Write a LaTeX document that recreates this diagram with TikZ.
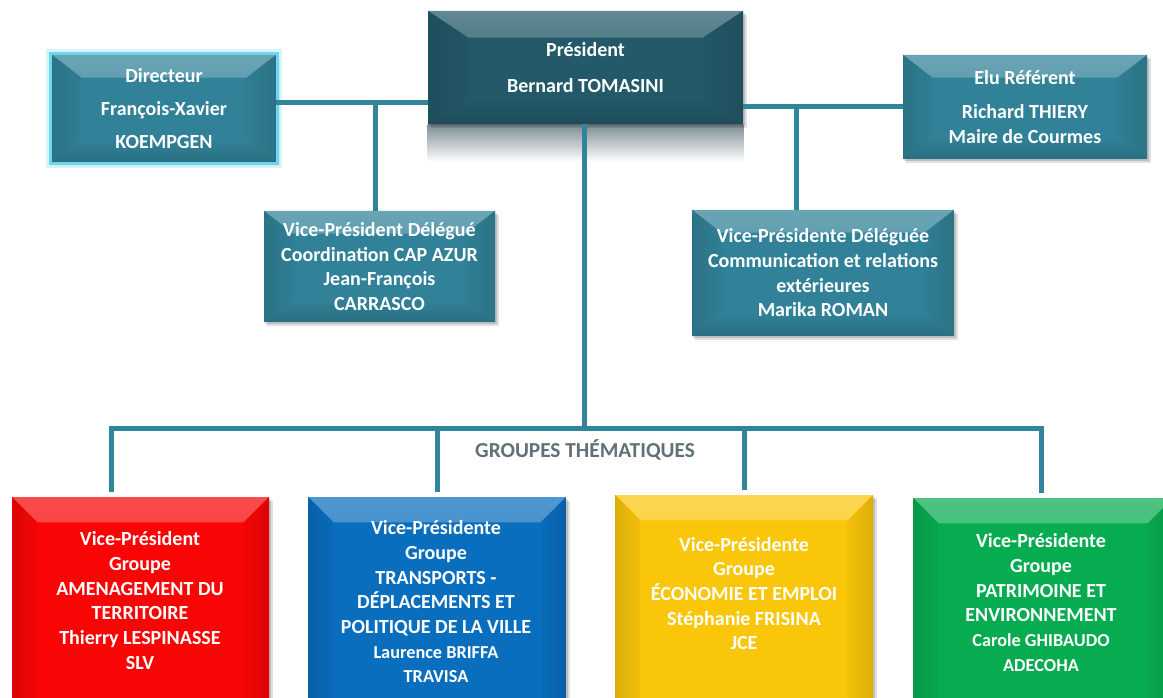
\documentclass[tikz,border=0pt]{standalone}
\usepackage{fontspec}
\setmainfont{Carlito}
\usetikzlibrary{backgrounds}
\definecolor{tealbox}{RGB}{49,130,152}
\definecolor{presbox}{RGB}{35,89,105}
\definecolor{conncol}{RGB}{49,133,155}
\definecolor{redbox}{RGB}{250,5,5}
\definecolor{bluebox}{RGB}{10,110,190}
\definecolor{yellowbox}{RGB}{250,198,10}
\definecolor{greenbox}{RGB}{8,172,80}
\definecolor{glowcol}{RGB}{110,215,240}
\definecolor{grouptxt}{RGB}{98,112,120}
\definecolor{reflc}{RGB}{125,140,146}
\tikzset{
  bevelbox/.style n args={3}{rectangle, fill=#1, inner sep=0pt, draw=none,
    path picture={
      \shade[top color=#1!72!white, bottom color=#1!97!white] (path picture bounding box.north west) -- (path picture bounding box.north east)
        -- ([xshift=-#2,yshift=-#3]path picture bounding box.north east) -- ([xshift=#2,yshift=-#3]path picture bounding box.north west) -- cycle;
      \shade[top color=#1, bottom color=#1!85!black] (path picture bounding box.south west) -- (path picture bounding box.south east)
        -- ([xshift=-#2,yshift=#3]path picture bounding box.south east) -- ([xshift=#2,yshift=#3]path picture bounding box.south west) -- cycle;
      \shade[left color=#1!88!black, right color=#1!97!black] (path picture bounding box.north west) -- (path picture bounding box.south west)
        -- ([xshift=#2,yshift=#3]path picture bounding box.south west) -- ([xshift=#2,yshift=-#3]path picture bounding box.north west) -- cycle;
      \shade[left color=#1!97!black, right color=#1!88!black] (path picture bounding box.north east) -- (path picture bounding box.south east)
        -- ([xshift=-#2,yshift=#3]path picture bounding box.south east) -- ([xshift=-#2,yshift=-#3]path picture bounding box.north east) -- cycle;
    }},
  boxtext/.style={text=white, font=\bfseries\fontsize{15}{18.5}\selectfont, align=center},
  conn/.style={draw=conncol, line width=3.75pt},
}
\newcommand{\smallname}{\fontsize{13.7}{17}\selectfont}
\begin{document}
\begin{tikzpicture}[x=0.75pt,y=-0.75pt]
\useasboundingbox (0,0) rectangle (1163,698);
\clip (0,0) rectangle (1163,698);

% top boxes
\node[bevelbox={tealbox}{22pt}{17pt}, minimum width=168pt, minimum height=80.25pt, boxtext] (dir) at (164,108.5)
  {Directeur\\[6.5pt]François-Xavier\\[6.5pt]KOEMPGEN};
\node[bevelbox={presbox}{30pt}{20pt}, minimum width=236.25pt, minimum height=84.75pt, boxtext] (pres) at (585.5,67.5)
  {Président\\[8pt]Bernard TOMASINI};
\node[bevelbox={tealbox}{22pt}{17pt}, minimum width=173.25pt, minimum height=83.25pt, boxtext] (vpd) at (379.5,266.5)
  {Vice-Président Délégué\\Coordination CAP AZUR\\Jean-François\\CARRASCO};
\node[bevelbox={tealbox}{22pt}{17pt}, minimum width=183pt, minimum height=78pt, boxtext] (elu) at (1025,107)
  {Elu Référent\\[7pt]Richard THIERY\\Maire de Courmes};
\node[bevelbox={tealbox}{22pt}{17pt}, minimum width=196.5pt, minimum height=94.5pt, boxtext] (vpde) at (823,273)
  {Vice-Présidente Déléguée\\Communication et relations\\extérieures\\Marika ROMAN};

% bottom boxes
\node[bevelbox={redbox}{19pt}{19pt}, minimum width=192.75pt, minimum height=182.25pt] (g1) at (140.5,618.5) {};
\node[bevelbox={bluebox}{19pt}{19pt}, minimum width=193.5pt, minimum height=182.25pt] (g2) at (437,618.5) {};
\node[bevelbox={yellowbox}{19pt}{19pt}, minimum width=193.5pt, minimum height=183.75pt] (g3) at (744,617.5) {};
\node[bevelbox={greenbox}{19pt}{19pt}, minimum width=195pt, minimum height=181.5pt] (g4) at (1043,619) {};

\node[boxtext] (g1t) at (140,600.5)
  {Vice-Président\\Groupe\\AMENAGEMENT DU\\TERRITOIRE\\Thierry LESPINASSE\\SLV};
\node[boxtext] (g2t) at (436,602)
  {Vice-Présidente\\Groupe\\TRANSPORTS -\\DÉPLACEMENTS ET\\POLITIQUE DE LA VILLE\\{\smallname Laurence BRIFFA}\\{\smallname TRAVISA}};
\node[boxtext] (g3t) at (744,593.5)
  {Vice-Présidente\\Groupe\\ÉCONOMIE ET EMPLOI\\Stéphanie FRISINA\\JCE};
\node[boxtext] (g4t) at (1041,602.5)
  {Vice-Présidente\\Groupe\\PATRIMOINE ET\\ENVIRONNEMENT\\{\smallname Carole GHIBAUDO}\\{\smallname ADECOHA}};

\node[font=\bfseries\fontsize{16}{18}\selectfont, text=grouptxt] (grp) at (585,450) {GROUPES THÉMATIQUES};

% connectors
\coordinate (jL) at (375,103);
\coordinate (jR) at (796,107);
\coordinate (bl) at (111,428);
\coordinate (br) at (1041,428);
\coordinate (bm) at (584,428);
\draw[conn] (dir.east |- jL) -- (pres.west |- jL);
\draw[conn] (jL) -- (vpd.north -| jL);
\draw[conn] (pres.east |- jR) -- (elu.west |- jR);
\draw[conn] (jR) -- (vpde.north -| jR);
\draw[conn] (pres.south -| bm) -- (bm);
\draw[conn, shorten <=3.5pt, shorten >=3.5pt] (g1.north -| bl) -- (bl) -- (br) -- (g4.north -| br);
\draw[conn, shorten <=3.5pt] (g2.north) -- (g2.north |- bl);
\draw[conn, shorten <=3.5pt] (g3.north) -- (g3.north |- bl);

% background: page, shadows, glow, reflection
\begin{scope}[on background layer]
\fill[white] (0,0) rectangle (1163,698);
\shade[top color=reflc, bottom color=white] (pres.south west) rectangle ([yshift=-28pt]pres.south east);
\foreach \n in {dir,pres,vpd,elu,vpde,g1,g2,g3,g4}{
  \fill[black, opacity=0.12] ([xshift=2.5pt,yshift=-3pt]\n.south west) rectangle ([xshift=2.5pt,yshift=-3pt]\n.north east);
  \fill[black, opacity=0.15] ([xshift=1.2pt,yshift=-1.5pt]\n.south west) rectangle ([xshift=1.2pt,yshift=-1.5pt]\n.north east);
}
\draw[glowcol!45, line width=8pt, opacity=0.6] (dir.south west) rectangle (dir.north east);
\draw[glowcol, line width=3.5pt] (dir.south west) rectangle (dir.north east);
\end{scope}
\end{tikzpicture}
\end{document}
